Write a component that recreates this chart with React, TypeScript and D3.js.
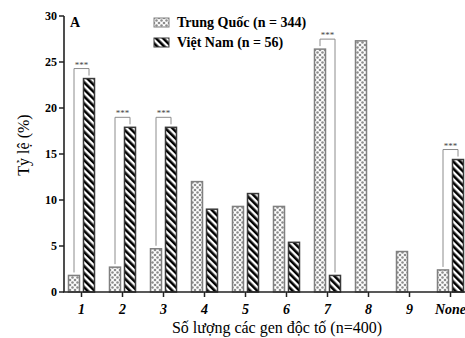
import React from "react";
import { scaleBand, scaleLinear, max } from "d3";

const categories = ["1", "2", "3", "4", "5", "6", "7", "8", "9", "None"];
const trungQuoc = [1.8, 2.7, 4.7, 12.0, 9.3, 9.3, 26.4, 27.3, 4.4, 2.4];
const vietNam = [23.2, 17.9, 17.9, 9.0, 10.7, 5.4, 1.8, 0, 0, 14.4];
const yTicks = [0, 5, 10, 15, 20, 25, 30];
const sigCategories = ["1", "2", "3", "7", "None"];
const seriesNames = ["Trung Quốc (n = 344)", "Việt Nam (n = 56)"];

const W = 465;
const H = 338;
const serif = "'Liberation Serif', 'Times New Roman', serif";

const App = () => {
  //scales
  const y = scaleLinear().domain([0, 30]).range([292, 16]);
  const x = scaleBand().domain(categories).range([61, 471]);
  const inner = scaleBand()
    .domain(["tq", "vn"])
    .range([0, x.bandwidth()])
    .paddingInner(4 / 15)
    .paddingOuter(0.5);
  const bw = inner.bandwidth();

  const series = [
    { key: "tq", values: trungQuoc, fill: "url(#dots)", stroke: "#808080" },
    { key: "vn", values: vietNam, fill: "url(#stripes)", stroke: "#3a3a3a" },
  ];

  return (
    <svg width={W} height={H} style={{ position: "absolute", left: 0, top: 0 }}>
      <defs>
        <pattern id="dots" patternUnits="userSpaceOnUse" width="5" height="5">
          <rect width="5" height="5" fill="#fff" />
          <circle cx="0" cy="0" r="1.3" fill="#8c8c8c" />
          <circle cx="5" cy="0" r="1.3" fill="#8c8c8c" />
          <circle cx="0" cy="5" r="1.3" fill="#8c8c8c" />
          <circle cx="5" cy="5" r="1.3" fill="#8c8c8c" />
          <circle cx="2.5" cy="2.5" r="1.3" fill="#8c8c8c" />
        </pattern>
        <pattern
          id="stripes"
          patternUnits="userSpaceOnUse"
          width="5"
          height="5"
          patternTransform="rotate(-45)"
        >
          <rect width="5" height="5" fill="#fff" />
          <rect width="2.6" height="5" fill="#000" />
        </pattern>
      </defs>

      {/* bars */}
      {series.map((s) =>
        categories.map((c, i) =>
          s.values[i] > 0 ? (
            <rect
              key={s.key + c}
              x={(x(c) ?? 0) + (inner(s.key) ?? 0)}
              y={y(s.values[i])}
              width={bw}
              height={y(0) - y(s.values[i])}
              fill={s.fill}
              stroke={s.stroke}
              strokeWidth={1.5}
            />
          ) : null
        )
      )}

      {/* significance brackets */}
      {sigCategories.map((c) => {
        const i = categories.indexOf(c);
        const x1 = (x(c) ?? 0) + (inner("tq") ?? 0) + bw / 2;
        const x2 = (x(c) ?? 0) + (inner("vn") ?? 0) + bw / 2;
        const top = y(max([trungQuoc[i], vietNam[i]]) ?? 0) - 10;
        const y1 = y(trungQuoc[i]) - 3;
        const y2 = y(vietNam[i]) - 3;
        return (
          <g key={"sig" + c}>
            <path
              d={`M${x1},${y1}V${top}H${x2}V${y2}`}
              fill="none"
              stroke="#8c8c8c"
              strokeWidth={1}
            />
            <text
              x={(x1 + x2) / 2}
              y={top - 1}
              textAnchor="middle"
              fontFamily={serif}
              fontSize={9}
              fill="#444"
            >
              ***
            </text>
          </g>
        );
      })}

      {/* y axis */}
      <line x1={64} x2={64} y1={y(30)} y2={y(0)} stroke="#222" strokeWidth={1.6} />
      {yTicks.map((t) => (
        <g key={"y" + t}>
          <line x1={59} x2={64} y1={y(t)} y2={y(t)} stroke="#222" strokeWidth={1.5} />
          <text
            x={57}
            y={y(t)}
            dy="0.35em"
            textAnchor="end"
            fontFamily={serif}
            fontWeight="bold"
            fontSize={12}
          >
            {t}
          </text>
        </g>
      ))}

      {/* x axis */}
      <line x1={63} x2={W} y1={y(0)} y2={y(0)} stroke="#222" strokeWidth={1.6} />
      {categories.map((c) => {
        const cx = (x(c) ?? 0) + x.bandwidth() / 2;
        return (
          <g key={"x" + c}>
            <line x1={cx} x2={cx} y1={y(0)} y2={y(0) + 5} stroke="#222" strokeWidth={1.5} />
            <text
              x={cx}
              y={y(0) + 22}
              textAnchor="middle"
              fontFamily={serif}
              fontWeight="bold"
              fontStyle="italic"
              fontSize={14}
            >
              {c}
            </text>
          </g>
        );
      })}

      {/* labels */}
      <text
        transform={`translate(29,145) rotate(-90)`}
        textAnchor="middle"
        fontFamily={serif}
        fontSize={16}
      >
        Tỷ lệ (%)
      </text>
      <text x={277} y={333} textAnchor="middle" fontFamily={serif} fontSize={16}>
        Số lượng các gen độc tố (n=400)
      </text>
      <text x={70} y={27} fontFamily={serif} fontWeight="bold" fontSize={14}>
        A
      </text>

      {/* legend */}
      {seriesNames.map((name, i) => (
        <g key={name} transform={`translate(154,${18 + i * 20})`}>
          <rect
            width={15}
            height={9}
            fill={series[i].fill}
            stroke={series[i].stroke}
            strokeWidth={1}
          />
          <text x={23} y={9} fontFamily={serif} fontWeight="bold" fontSize={14}>
            {name}
          </text>
        </g>
      ))}
    </svg>
  );
};

export default App;
